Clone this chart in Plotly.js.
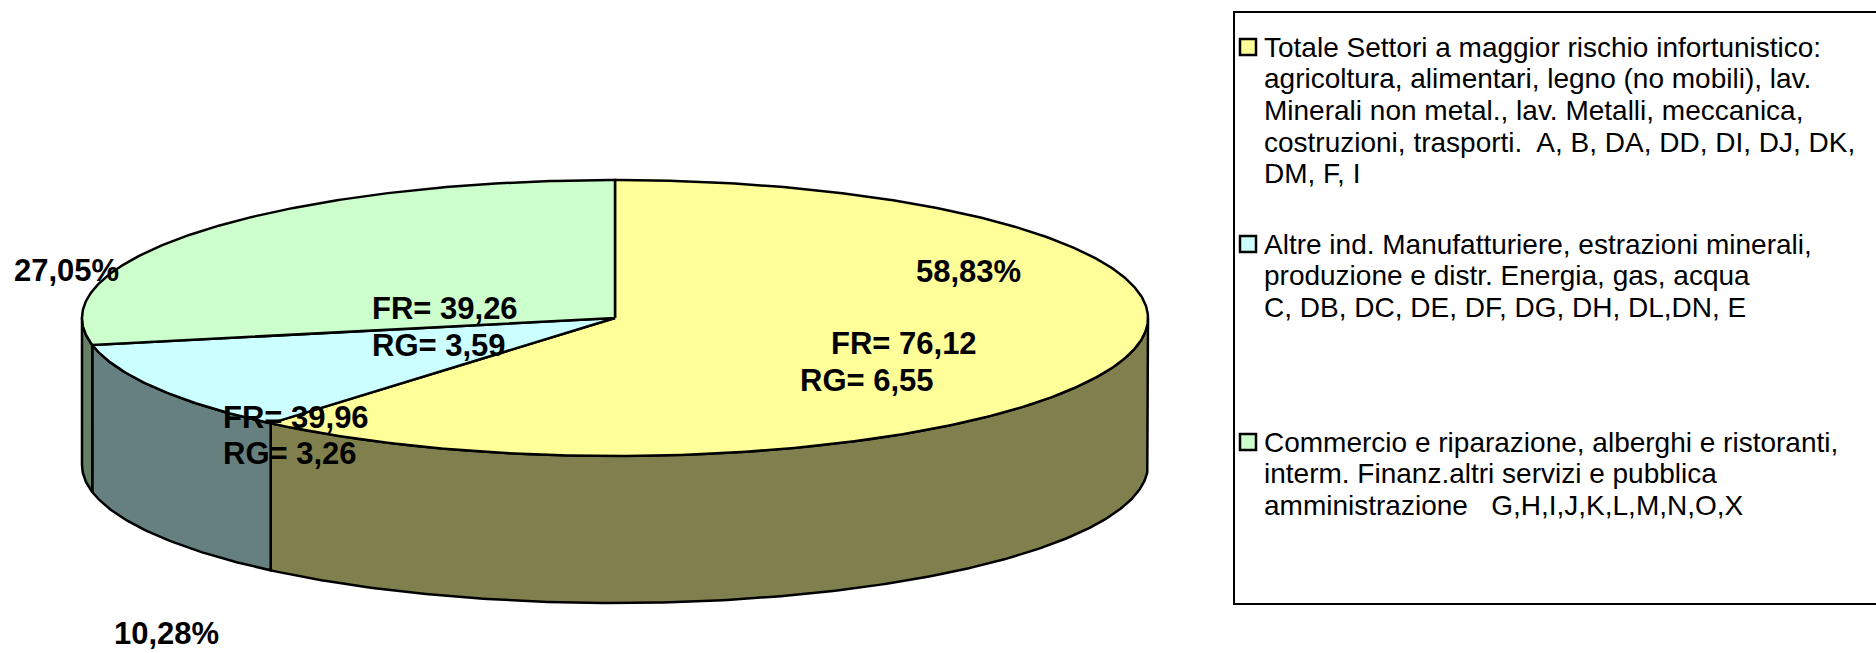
<!DOCTYPE html>
<html>
<head>
<meta charset="utf-8">
<script src="https://cdn.plot.ly/plotly-3.0.1.min.js"></script>
<style>html,body{margin:0;padding:0;background:#fff;}#chart{width:1876px;height:653px;}</style>
</head>
<body>
<div id="chart"></div>
<script>
// ---- data ----
const categories = [
  'Totale Settori a maggior rischio infortunistico:<br>agricoltura, alimentari, legno (no mobili), lav.<br>Minerali non metal., lav. Metalli, meccanica,<br>costruzioni, trasporti.\u00A0 A, B, DA, DD, DI, DJ, DK,<br>DM, F, I',
  'Altre ind. Manufatturiere, estrazioni minerali,<br>produzione e distr. Energia, gas, acqua<br>C, DB, DC, DE, DF, DG, DH, DL,DN, E',
  'Commercio e riparazione, alberghi e ristoranti,<br>interm. Finanz.altri servizi e pubblica<br>amministrazione\u00A0\u00A0 G,H,I,J,K,L,M,N,O,X'
];
const values = [58.83, 10.28, 27.05];
const FR = [76.12, 39.96, 39.26];
const RG = [6.55, 3.26, 3.59];

// ---- styles / layout ----
const W = 1876, H = 653;
const topColors = ['#FFFF99', '#CCFFFF', '#CCFFCC'];
const sideColors = ['#80804E', '#668080', '#668066'];
const cx = 615, cy = 318, rx = 533, ry = 138, depth = 147;
const pctPos = [[968, 271], [166, 633], [66, 270]];
const frPos = [[829, 343], [221, 417], [370, 308]];
const rgPos = [[798, 380], [221, 453], [370, 345]];
const legendLineY = [[47, 78.7, 110.4, 142.1, 173.8], [244, 275.7, 307.4], [442, 473.7, 505.4]];

function fmt(v) { return v.toFixed(2).replace('.', ','); }
function px(t) { return cx + rx * Math.cos(t * Math.PI / 180); }
function py(t, d) { return cy - ry * Math.sin(t * Math.PI / 180) + (d || 0); }

const total = values.reduce((a, b) => a + b, 0);
const slices = [];
let start = 90;
values.forEach((v, i) => {
  const end = start - 360 * v / total;
  slices.push({ i, a1: end, a2: start });
  start = end;
});

const sideTraces = [], topTraces = [];
const lineStyle = { color: '#000', width: 2.5 };
slices.forEach(s => {
  // visible front side: angles in [-180, 0]
  const lo = Math.max(s.a1, -180), hi = Math.min(s.a2, 0);
  if (hi > lo) {
    const xs = [], ys = [];
    const n = Math.max(2, Math.ceil((hi - lo) / 0.5));
    for (let k = 0; k <= n; k++) { const t = lo + (hi - lo) * k / n; xs.push(px(t)); ys.push(py(t)); }
    for (let k = n; k >= 0; k--) { const t = lo + (hi - lo) * k / n; xs.push(px(t)); ys.push(py(t, depth)); }
    xs.push(xs[0]); ys.push(ys[0]);
    sideTraces.push({ type: 'scatter', mode: 'lines', x: xs, y: ys, fill: 'toself',
      fillcolor: sideColors[s.i], line: lineStyle, hoverinfo: 'skip', showlegend: false });
  }
  const xs = [cx], ys = [cy];
  const n = Math.max(2, Math.ceil((s.a2 - s.a1) / 0.5));
  for (let k = 0; k <= n; k++) { const t = s.a2 - (s.a2 - s.a1) * k / n; xs.push(px(t)); ys.push(py(t)); }
  xs.push(cx); ys.push(cy);
  topTraces.push({ type: 'scatter', mode: 'lines', x: xs, y: ys, fill: 'toself',
    fillcolor: topColors[s.i], line: lineStyle, hoverinfo: 'skip', showlegend: false });
});

const labelFont = { family: 'Liberation Sans, Arial, sans-serif', size: 31, color: '#000' };
const annotations = [];
values.forEach((v, i) => {
  annotations.push({ x: pctPos[i][0], y: pctPos[i][1], xref: 'x', yref: 'y', text: '<b>' + fmt(v) + '%</b>',
    showarrow: false, xanchor: 'center', yanchor: 'middle', font: labelFont, borderpad: 0 });
  annotations.push({ x: frPos[i][0], y: frPos[i][1], xref: 'x', yref: 'y', text: '<b>FR= ' + fmt(FR[i]) + '</b>',
    showarrow: false, xanchor: 'left', yanchor: 'middle', font: labelFont });
  annotations.push({ x: rgPos[i][0], y: rgPos[i][1], xref: 'x', yref: 'y', text: '<b>RG= ' + fmt(RG[i]) + '</b>',
    showarrow: false, xanchor: 'left', yanchor: 'middle', font: labelFont });
});

const legendFont = { family: 'Liberation Sans, Arial, sans-serif', size: 28, color: '#000' };
const shapes = [
  { type: 'rect', xref: 'x', yref: 'y', x0: 1234, x1: 1890, y0: 12, y1: 604, line: { color: '#000', width: 2 }, fillcolor: 'rgba(0,0,0,0)' }
];
categories.forEach((c, i) => {
  const lines = c.split('<br>');
  lines.forEach((ln, k) => {
    annotations.push({ x: 1262, y: legendLineY[i][k], xref: 'x', yref: 'y', text: ln, showarrow: false,
      xanchor: 'left', yanchor: 'middle', font: legendFont });
  });
  const y0 = legendLineY[i][0];
  shapes.push({ type: 'rect', xref: 'x', yref: 'y', x0: 1240, x1: 1256, y0: y0 - 8, y1: y0 + 8,
    fillcolor: topColors[i], line: { color: '#000', width: 2.5 } });
});

const layout = {
  width: W, height: H, margin: { l: 0, r: 0, t: 0, b: 0 },
  paper_bgcolor: '#fff', plot_bgcolor: '#fff',
  xaxis: { range: [0, W], visible: false, fixedrange: true },
  yaxis: { range: [H, 0], visible: false, fixedrange: true },
  showlegend: false, annotations, shapes
};
Plotly.newPlot('chart', sideTraces.concat(topTraces), layout, { staticPlot: true });
</script>
</body>
</html>
